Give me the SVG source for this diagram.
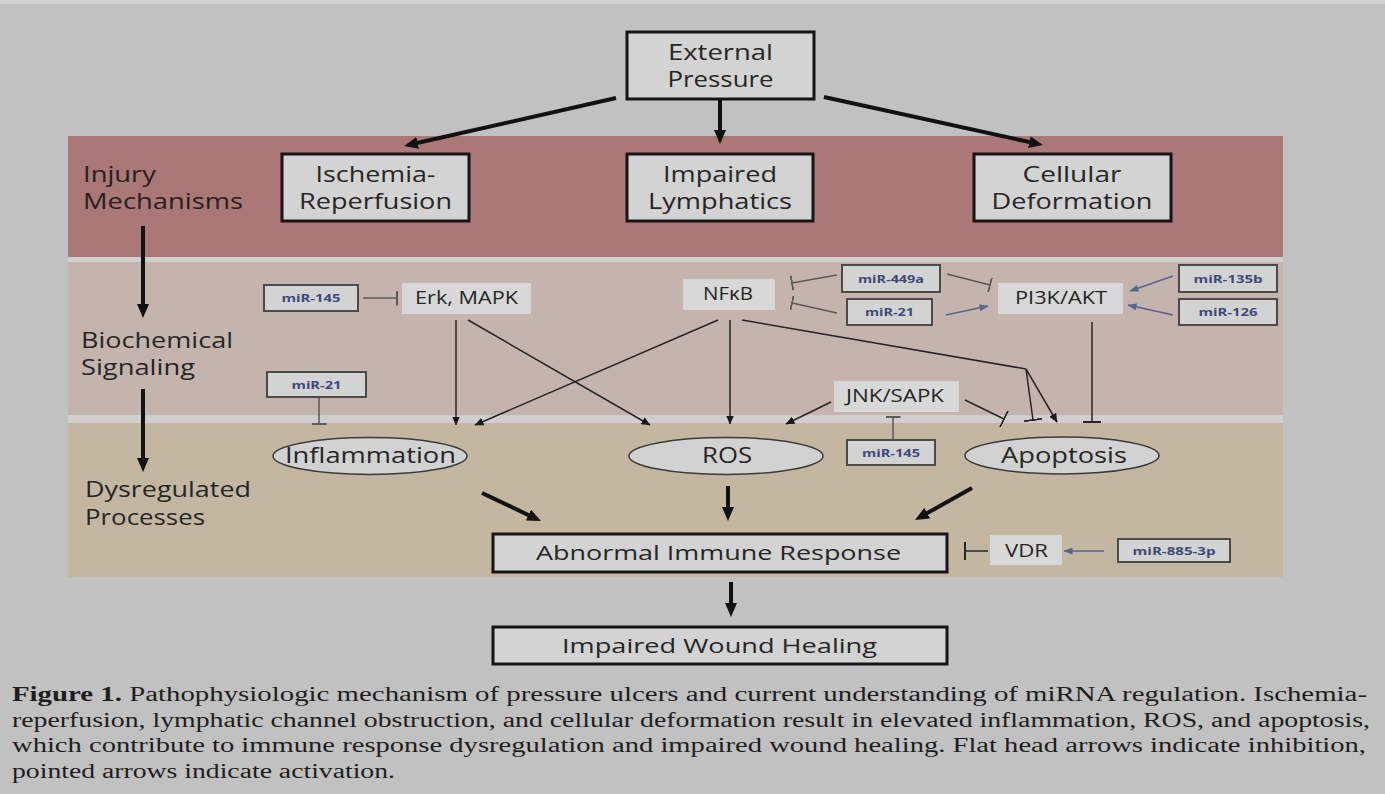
<svg xmlns="http://www.w3.org/2000/svg" width="1385" height="794" viewBox="0 0 1385 794">
  <style>
    .lbl { font-family: "Open Sans", "Liberation Sans", sans-serif; fill: #262626; }
    .big { font-size: 21px; }
    .mid { font-size: 18px; }
    .mir { font-family: "Open Sans", "Liberation Sans", sans-serif; font-size: 11px; font-weight: bold; fill: #3c4a7a; }
    .cap { font-family: "Liberation Serif", "Times New Roman", serif; font-size: 20px; fill: #1e1e1e; }
    .box { fill: #d3d3d3; stroke: #151515; stroke-width: 3; }
    .soft { fill: #d8d8d8; }
    .mbox { fill: #d3d3d3; stroke: #4a4a4a; stroke-width: 2; }
    .ell { fill: #d2d2d2; stroke: #3a3a3a; stroke-width: 1.5; }
    .thick { stroke: #111; stroke-width: 4; fill: none; marker-end: url(#bigHead); }
    .thin { stroke: #262626; stroke-width: 1.5; fill: none; }
    .act { marker-end: url(#thinHead); }
    .inh { marker-end: url(#tee); }
    .mline { stroke: #5a5a5a; stroke-width: 1.5; fill: none; }
    .minh { marker-end: url(#teeGray); }
    .blue { stroke: #55648f; stroke-width: 1.5; fill: none; marker-end: url(#blueHead); }
  </style>
  <defs>
    <marker id="bigHead" markerUnits="userSpaceOnUse" viewBox="0 0 14 12" refX="4" refY="6" markerWidth="14" markerHeight="12" orient="auto">
      <path d="M0,0 L14,6 L0,12 z" fill="#111"/>
    </marker>
    <marker id="thinHead" markerUnits="userSpaceOnUse" viewBox="0 0 9 8" refX="8.5" refY="4" markerWidth="9" markerHeight="8" orient="auto">
      <path d="M0,0 L9,4 L0,8 z" fill="#1a1a1a"/>
    </marker>
    <marker id="blueHead" markerUnits="userSpaceOnUse" viewBox="0 0 9 7" refX="8.5" refY="3.5" markerWidth="9" markerHeight="7" orient="auto">
      <path d="M0,0 L9,3.5 L0,7 z" fill="#55648f"/>
    </marker>
    <marker id="tee" markerUnits="userSpaceOnUse" viewBox="0 0 2 18" refX="1" refY="9" markerWidth="2" markerHeight="18" orient="auto">
      <rect x="0" y="0" width="2" height="18" fill="#262626"/>
    </marker>
    <marker id="teeGray" markerUnits="userSpaceOnUse" viewBox="0 0 2 15" refX="1" refY="7.5" markerWidth="2" markerHeight="15" orient="auto">
      <rect x="0" y="0" width="2" height="15" fill="#5a5a5a"/>
    </marker>
  </defs>

  <!-- page background and the three tinted layers -->
  <rect x="0" y="0" width="1385" height="794" fill="#c1c1c1"/>
  <rect x="0" y="0" width="1385" height="4" fill="#d2d2d2"/>
  <rect x="68" y="257" width="1215" height="166" fill="#cfcfcf"/>
  <rect x="68" y="136" width="1215" height="121" fill="#a97877"/>
  <rect x="68" y="262" width="1215" height="153" fill="#c5b4ae"/>
  <rect x="68" y="423" width="1215" height="154" fill="#c3b7a2"/>

  <!-- layer captions on the left -->
  <g id="layer-labels" class="lbl big">
    <text x="83" y="182" textLength="73" lengthAdjust="spacingAndGlyphs" fill="#2a1e1e">Injury</text>
    <text x="83" y="209" textLength="160" lengthAdjust="spacingAndGlyphs" fill="#2a1e1e">Mechanisms</text>
    <text x="81" y="348" textLength="152" lengthAdjust="spacingAndGlyphs">Biochemical</text>
    <text x="81" y="375" textLength="114" lengthAdjust="spacingAndGlyphs">Signaling</text>
    <text x="85" y="497" textLength="166" lengthAdjust="spacingAndGlyphs">Dysregulated</text>
    <text x="85" y="525" textLength="120" lengthAdjust="spacingAndGlyphs">Processes</text>
  </g>

  <!-- connectors -->
  <g id="connectors">
    <!-- heavy flow arrows -->
    <line class="thick" x1="616" y1="98" x2="413.8" y2="143.8"/>
    <line class="thick" x1="720" y1="100" x2="720" y2="134"/>
    <line class="thick" x1="824" y1="97" x2="1033.2" y2="142.9"/>
    <line class="thick" x1="143" y1="226" x2="143" y2="308"/>
    <line class="thick" x1="143" y1="389" x2="143" y2="462"/>
    <line class="thick" x1="482" y1="493" x2="532" y2="516.7"/>
    <line class="thick" x1="728" y1="486" x2="728" y2="511"/>
    <line class="thick" x1="972" y1="488" x2="923.7" y2="515.1"/>
    <line class="thick" x1="731" y1="582" x2="731" y2="607"/>

    <!-- signalling links -->
    <line class="thin act" x1="456" y1="320" x2="456" y2="425"/>
    <line class="thin act" x1="468" y1="320" x2="650" y2="425"/>
    <line class="thin act" x1="718" y1="320" x2="475" y2="425"/>
    <line class="thin act" x1="730" y1="320" x2="730" y2="424"/>
    <line class="thin" x1="742" y1="320" x2="1026" y2="369"/>
    <line class="thin act" x1="1026" y1="369" x2="1057" y2="422"/>
    <line class="thin inh" x1="1026" y1="369" x2="1033" y2="420"/>
    <line class="thin act" x1="831" y1="402" x2="786" y2="424"/>
    <line class="thin inh" x1="965" y1="400" x2="1004" y2="419"/>
    <line class="thin inh" x1="1092" y1="322" x2="1092" y2="422"/>

    <!-- miRNA regulation -->
    <line class="mline minh" x1="363" y1="298" x2="397" y2="298"/>
    <line class="mline minh" x1="319" y1="397" x2="319" y2="424"/>
    <line class="mline minh" x1="837" y1="275" x2="792" y2="283"/>
    <line class="mline minh" x1="837" y1="313" x2="792" y2="303"/>
    <line class="mline minh" x1="947" y1="274" x2="990" y2="285"/>
    <line class="blue" x1="946" y1="315" x2="988" y2="306"/>
    <line class="blue" x1="1173" y1="276" x2="1130" y2="291"/>
    <line class="blue" x1="1173" y1="315" x2="1128" y2="305"/>
    <line class="mline minh" x1="893" y1="440" x2="893" y2="417"/>
    <line class="thin inh" x1="988" y1="551" x2="965" y2="551"/>
    <line class="blue" x1="1104" y1="551" x2="1064" y2="551"/>
  </g>

  <!-- top-level cause -->
  <g id="external-pressure">
    <rect class="box" x="627" y="32" width="187" height="67"/>
    <text class="lbl big" x="720.5" y="60" text-anchor="middle" textLength="105" lengthAdjust="spacingAndGlyphs">External</text>
    <text class="lbl big" x="720.5" y="87" text-anchor="middle" textLength="106" lengthAdjust="spacingAndGlyphs">Pressure</text>
  </g>

  <!-- injury mechanisms -->
  <g id="ischemia-reperfusion">
    <rect class="box" x="282" y="154" width="187" height="67"/>
    <text class="lbl big" x="375.5" y="182" text-anchor="middle" textLength="120" lengthAdjust="spacingAndGlyphs">Ischemia-</text>
    <text class="lbl big" x="375.5" y="209" text-anchor="middle" textLength="153" lengthAdjust="spacingAndGlyphs">Reperfusion</text>
  </g>
  <g id="impaired-lymphatics">
    <rect class="box" x="627" y="154" width="186" height="67"/>
    <text class="lbl big" x="720" y="182" text-anchor="middle" textLength="114" lengthAdjust="spacingAndGlyphs">Impaired</text>
    <text class="lbl big" x="720" y="209" text-anchor="middle" textLength="144" lengthAdjust="spacingAndGlyphs">Lymphatics</text>
  </g>
  <g id="cellular-deformation">
    <rect class="box" x="974" y="154" width="197" height="67"/>
    <text class="lbl big" x="1072" y="182" text-anchor="middle" textLength="99" lengthAdjust="spacingAndGlyphs">Cellular</text>
    <text class="lbl big" x="1072" y="209" text-anchor="middle" textLength="161" lengthAdjust="spacingAndGlyphs">Deformation</text>
  </g>

  <!-- signalling nodes -->
  <g id="erk-mapk">
    <rect class="soft" x="402" y="283" width="129" height="31"/>
    <text class="lbl mid" x="466.5" y="304" text-anchor="middle" textLength="103" lengthAdjust="spacingAndGlyphs">Erk, MAPK</text>
  </g>
  <g id="nfkb">
    <rect class="soft" x="683" y="279" width="92" height="31"/>
    <text class="lbl mid" x="728" y="300" text-anchor="middle" textLength="50" lengthAdjust="spacingAndGlyphs">NFκB</text>
  </g>
  <g id="pi3k-akt">
    <rect class="soft" x="998" y="283" width="125" height="31"/>
    <text class="lbl mid" x="1061" y="304" text-anchor="middle" textLength="92" lengthAdjust="spacingAndGlyphs">PI3K/AKT</text>
  </g>
  <g id="jnk-sapk">
    <rect class="soft" x="834" y="381" width="125" height="31"/>
    <text class="lbl mid" x="895" y="402" text-anchor="middle" textLength="98" lengthAdjust="spacingAndGlyphs">JNK/SAPK</text>
  </g>
  <g id="vdr">
    <rect class="soft" x="990" y="535" width="72" height="30"/>
    <text class="lbl mid" x="1026.5" y="557" text-anchor="middle" textLength="43" lengthAdjust="spacingAndGlyphs">VDR</text>
  </g>

  <!-- miRNA boxes -->
  <g id="mir-145-erk">
    <rect class="mbox" x="264" y="285" width="94" height="26"/>
    <text class="mir" x="311" y="302" text-anchor="middle" textLength="59" lengthAdjust="spacingAndGlyphs">miR-145</text>
  </g>
  <g id="mir-21-inflammation">
    <rect class="mbox" x="267" y="372" width="99" height="25"/>
    <text class="mir" x="316.5" y="388.5" text-anchor="middle" textLength="50" lengthAdjust="spacingAndGlyphs">miR-21</text>
  </g>
  <g id="mir-449a">
    <rect class="mbox" x="842" y="265" width="98" height="27"/>
    <text class="mir" x="891" y="282.5" text-anchor="middle" textLength="66" lengthAdjust="spacingAndGlyphs">miR-449a</text>
  </g>
  <g id="mir-21-signalling">
    <rect class="mbox" x="847" y="299" width="85" height="26"/>
    <text class="mir" x="889.5" y="316" text-anchor="middle" textLength="49" lengthAdjust="spacingAndGlyphs">miR-21</text>
  </g>
  <g id="mir-135b">
    <rect class="mbox" x="1179" y="265" width="98" height="27"/>
    <text class="mir" x="1228" y="282.5" text-anchor="middle" textLength="69" lengthAdjust="spacingAndGlyphs">miR-135b</text>
  </g>
  <g id="mir-126">
    <rect class="mbox" x="1179" y="299" width="98" height="26"/>
    <text class="mir" x="1228" y="316" text-anchor="middle" textLength="59" lengthAdjust="spacingAndGlyphs">miR-126</text>
  </g>
  <g id="mir-145-jnk">
    <rect class="mbox" x="847" y="440" width="88" height="25"/>
    <text class="mir" x="891" y="456.5" text-anchor="middle" textLength="58" lengthAdjust="spacingAndGlyphs">miR-145</text>
  </g>
  <g id="mir-885-3p">
    <rect class="mbox" x="1118" y="539" width="112" height="23"/>
    <text class="mir" x="1174" y="554.5" text-anchor="middle" textLength="83" lengthAdjust="spacingAndGlyphs">miR-885-3p</text>
  </g>

  <!-- dysregulated processes -->
  <g id="inflammation">
    <ellipse class="ell" cx="370" cy="456" rx="97" ry="18.5"/>
    <text class="lbl big" x="370.5" y="463" text-anchor="middle" textLength="171" lengthAdjust="spacingAndGlyphs">Inflammation</text>
  </g>
  <g id="ros">
    <ellipse class="ell" cx="726" cy="456" rx="97" ry="18.5"/>
    <text class="lbl big" x="727" y="463" text-anchor="middle" textLength="50" lengthAdjust="spacingAndGlyphs">ROS</text>
  </g>
  <g id="apoptosis">
    <ellipse class="ell" cx="1062" cy="455.5" rx="97" ry="18.5"/>
    <text class="lbl big" x="1064" y="463" text-anchor="middle" textLength="126" lengthAdjust="spacingAndGlyphs">Apoptosis</text>
  </g>

  <!-- outcomes -->
  <g id="abnormal-immune-response">
    <rect class="box" x="493" y="534" width="454" height="38"/>
    <text class="lbl" font-size="20" x="718.5" y="560" text-anchor="middle" textLength="365" lengthAdjust="spacingAndGlyphs">Abnormal Immune Response</text>
  </g>
  <g id="impaired-wound-healing">
    <rect class="box" x="493" y="627" width="454" height="37"/>
    <text class="lbl" font-size="20" x="719.5" y="653" text-anchor="middle" textLength="315" lengthAdjust="spacingAndGlyphs">Impaired Wound Healing</text>
  </g>

  <!-- figure caption -->
  <g id="caption" class="cap">
    <text x="12" y="701" textLength="1355" lengthAdjust="spacingAndGlyphs"><tspan font-weight="bold">Figure 1.</tspan> Pathophysiologic mechanism of pressure ulcers and current understanding of miRNA regulation. Ischemia-</text>
    <text x="12" y="727" textLength="1358" lengthAdjust="spacingAndGlyphs">reperfusion, lymphatic channel obstruction, and cellular deformation result in elevated inflammation, ROS, and apoptosis,</text>
    <text x="12" y="752" textLength="1354" lengthAdjust="spacingAndGlyphs">which contribute to immune response dysregulation and impaired wound healing. Flat head arrows indicate inhibition,</text>
    <text x="12" y="778" textLength="383" lengthAdjust="spacingAndGlyphs">pointed arrows indicate activation.</text>
  </g>
</svg>
